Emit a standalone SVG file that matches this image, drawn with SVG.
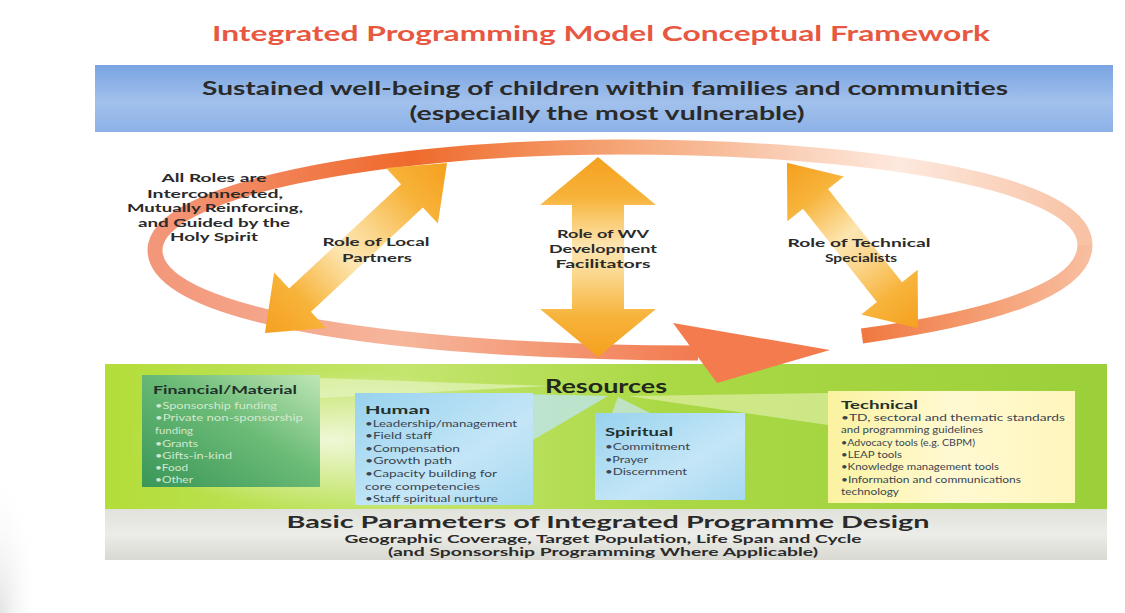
<svg xmlns="http://www.w3.org/2000/svg" width="1125" height="613" viewBox="0 0 1125 613">
<style>
text{font-family:Lato,"Open Sans","DejaVu Sans",sans-serif;}
.title{font-size:21px;font-weight:bold;fill:#e8573f;}
.h1{font-size:19px;font-weight:bold;fill:#2a2a2a;}
.role{font-size:11.5px;font-weight:bold;fill:#2a2a2a;}
.bt{font-size:11.5px;font-weight:bold;fill:#22302a;}
.it{font-size:9.5px;fill:#3a4450;}
.fit{font-size:9.5px;fill:#d2e8cf;}
.sub{font-size:11px;font-weight:bold;fill:#2a2a2a;}
.arr{fill:url(#ag);}
.ring{fill:none;stroke-width:15;stroke-linecap:butt;}
</style>
<defs>
<linearGradient id="bg1" x1="0" y1="0" x2="0" y2="1">
<stop offset="0" stop-color="#79a4e2"/><stop offset="0.55" stop-color="#a2c1ec"/><stop offset="1" stop-color="#8cb2e7"/>
</linearGradient>
<linearGradient id="ag" x1="0" y1="0" x2="1" y2="0">
<stop offset="0" stop-color="#f5a01e"/><stop offset="0.2" stop-color="#f7b33a"/><stop offset="0.45" stop-color="#fde6b2"/><stop offset="0.58" stop-color="#fbd890"/><stop offset="0.8" stop-color="#f7b33a"/><stop offset="1" stop-color="#f5a01e"/>
</linearGradient>
<linearGradient id="rA" gradientUnits="userSpaceOnUse" x1="862" y1="0" x2="1085" y2="0">
<stop offset="0" stop-color="#f07840"/><stop offset="1" stop-color="#f8bd9e"/>
</linearGradient>
<linearGradient id="rB" gradientUnits="userSpaceOnUse" x1="1085" y1="0" x2="620" y2="0">
<stop offset="0" stop-color="#f8c2a4"/><stop offset="0.4" stop-color="#fde9de"/><stop offset="1" stop-color="#f5a576"/>
</linearGradient>
<linearGradient id="rC" gradientUnits="userSpaceOnUse" x1="620" y1="0" x2="155" y2="0">
<stop offset="0" stop-color="#f5a576"/><stop offset="0.45" stop-color="#ef6a2c"/><stop offset="1" stop-color="#f3977a"/>
</linearGradient>
<linearGradient id="rD" gradientUnits="userSpaceOnUse" x1="155" y1="0" x2="700" y2="0">
<stop offset="0" stop-color="#f3977a"/><stop offset="0.45" stop-color="#f6b69c"/><stop offset="1" stop-color="#f27a4e"/>
</linearGradient>
<linearGradient id="gp" x1="0" y1="0" x2="1" y2="0">
<stop offset="0" stop-color="#b3dd38"/><stop offset="0.3" stop-color="#c4e56e"/><stop offset="0.55" stop-color="#abd946"/><stop offset="1" stop-color="#9bd03a"/>
</linearGradient>
<radialGradient id="glow" cx="0.5" cy="0.5" r="0.5">
<stop offset="0" stop-color="#ffffff" stop-opacity="0.75"/><stop offset="1" stop-color="#ffffff" stop-opacity="0"/>
</radialGradient>
<linearGradient id="gray" x1="0" y1="0" x2="0" y2="1">
<stop offset="0" stop-color="#e2e2dc"/><stop offset="0.5" stop-color="#ecece8"/><stop offset="1" stop-color="#d9d9d2"/>
</linearGradient>
<linearGradient id="fin" x1="0" y1="1" x2="1" y2="0">
<stop offset="0" stop-color="#3a9658"/><stop offset="0.55" stop-color="#6bbb76"/><stop offset="1" stop-color="#bfe6b6"/>
</linearGradient>
<linearGradient id="blue" x1="0" y1="0" x2="1" y2="1">
<stop offset="0" stop-color="#98d2ee"/><stop offset="0.6" stop-color="#c4e6f7"/><stop offset="1" stop-color="#a6d8f0"/>
</linearGradient>
<linearGradient id="yel" x1="0" y1="0" x2="1" y2="0">
<stop offset="0" stop-color="#fbf2a0"/><stop offset="0.5" stop-color="#fff9d2"/><stop offset="1" stop-color="#fff6bc"/>
</linearGradient>
<radialGradient id="edge" cx="0" cy="1" r="1">
<stop offset="0" stop-color="#e4e4e4"/><stop offset="1" stop-color="#ffffff" stop-opacity="0"/>
</radialGradient>
</defs>

<rect width="1125" height="613" fill="#ffffff"/>
<rect x="0" y="470" width="40" height="143" fill="url(#edge)"/>

<g id="title">
<text class="title" x="601" y="41" text-anchor="middle" textLength="778" lengthAdjust="spacingAndGlyphs">Integrated Programming Model Conceptual Framework</text>
</g>

<g id="goal">
<rect x="95" y="65" width="1018" height="67" fill="url(#bg1)"/>
<text class="h1" x="605" y="95" text-anchor="middle" textLength="806" lengthAdjust="spacingAndGlyphs">Sustained well-being of children within families and communities</text>
<text class="h1" x="607" y="120" text-anchor="middle" textLength="395" lengthAdjust="spacingAndGlyphs">(especially the most vulnerable)</text>
</g>

<g id="connectors">
<path class="ring" stroke="url(#rA)" d="M862,336 C990,318 1085,290 1085,245"/>
<path class="ring" stroke="url(#rB)" d="M1085,245 C1085,180 860,147 620,147"/>
<path class="ring" stroke="url(#rC)" d="M620,147 C380,147 155,190 155,250"/>
<path class="ring" stroke="url(#rD)" d="M155,250 C155,320 420,353 698,353"/>
<path class="arr" transform="translate(356,248) rotate(-43)" d="M-124.5,0 L-76.5,-38 L-76.5,-16 L76.5,-16 L76.5,-38 L124.5,0 L76.5,38 L76.5,16 L-76.5,16 L-76.5,38 Z"/>
<path class="arr" transform="translate(598,257) rotate(90)" d="M-100,0 L-52,-58 L-52,-26 L52,-26 L52,-58 L100,0 L52,58 L52,26 L-52,26 L-52,58 Z"/>
<path class="arr" transform="translate(852.5,245.5) rotate(51.6)" d="M-105.5,0 L-59.5,-36 L-59.5,-16 L59.5,-16 L59.5,-36 L105.5,0 L59.5,36 L59.5,16 L-59.5,16 L-59.5,36 Z"/>
</g>

<g id="roles-note">
<text class="role" text-anchor="middle" x="214" y="182" textLength="105" lengthAdjust="spacingAndGlyphs">All Roles are</text>
<text class="role" text-anchor="middle" x="215" y="198" textLength="136" lengthAdjust="spacingAndGlyphs">Interconnected,</text>
<text class="role" text-anchor="middle" x="215" y="212" textLength="176" lengthAdjust="spacingAndGlyphs">Mutually Reinforcing,</text>
<text class="role" text-anchor="middle" x="214" y="227" textLength="152" lengthAdjust="spacingAndGlyphs">and Guided by the</text>
<text class="role" text-anchor="middle" x="214" y="241" textLength="88" lengthAdjust="spacingAndGlyphs">Holy Spirit</text>
</g>
<g id="role-local">
<text class="role" text-anchor="middle" x="376" y="246" textLength="107" lengthAdjust="spacingAndGlyphs">Role of Local</text>
<text class="role" text-anchor="middle" x="377" y="262" textLength="70" lengthAdjust="spacingAndGlyphs">Partners</text>
</g>
<g id="role-wv">
<text class="role" text-anchor="middle" x="603" y="238" textLength="92" lengthAdjust="spacingAndGlyphs">Role of WV</text>
<text class="role" text-anchor="middle" x="603" y="253" textLength="108" lengthAdjust="spacingAndGlyphs">Development</text>
<text class="role" text-anchor="middle" x="603" y="268" textLength="95" lengthAdjust="spacingAndGlyphs">Facilitators</text>
</g>
<g id="role-technical">
<text class="role" text-anchor="middle" x="859" y="247" textLength="143" lengthAdjust="spacingAndGlyphs">Role of Technical</text>
<text class="role" text-anchor="middle" x="861" y="262" textLength="72" lengthAdjust="spacingAndGlyphs">Specialists</text>
</g>

<g id="resources">
<rect x="105" y="364" width="1002" height="145" fill="url(#gp)"/>
<ellipse cx="330" cy="440" rx="200" ry="70" fill="url(#glow)"/>
<polygon points="320,378 320,398 548,386" fill="#eaf6cc" opacity="0.6"/>
<polygon points="480,393 533,393 533,440 608,396" fill="#bfe5f5" opacity="0.75"/>
<polygon points="612,413 650,413 618,397" fill="#c6e6f5" opacity="0.7"/>
<polygon points="828,393 828,425 628,396" fill="#eef6c0" opacity="0.55"/>
<text x="606" y="393" text-anchor="middle" textLength="122" lengthAdjust="spacingAndGlyphs" style="font-size:19px;font-weight:bold;fill:#22281e">Resources</text>
</g>

<g id="financial">
<rect x="142" y="375" width="178" height="112" fill="url(#fin)"/>
<text class="bt" x="153" y="394" textLength="144" lengthAdjust="spacingAndGlyphs">Financial/Material</text>
<text class="fit" x="155" y="408.5" textLength="122" lengthAdjust="spacingAndGlyphs">•Sponsorship funding</text>
<text class="fit" x="155" y="421" textLength="148" lengthAdjust="spacingAndGlyphs">•Private non-sponsorship</text>
<text class="fit" x="155" y="434" textLength="38" lengthAdjust="spacingAndGlyphs">funding</text>
<text class="fit" x="155" y="446.5" textLength="43" lengthAdjust="spacingAndGlyphs">•Grants</text>
<text class="fit" x="155" y="458.5" textLength="77" lengthAdjust="spacingAndGlyphs">•Gifts-in-kind</text>
<text class="fit" x="155" y="470.5" textLength="33" lengthAdjust="spacingAndGlyphs">•Food</text>
<text class="fit" x="155" y="483" textLength="38" lengthAdjust="spacingAndGlyphs">•Other</text>
</g>

<g id="human">
<rect x="355" y="393" width="178" height="112" fill="url(#blue)"/>
<text class="bt" x="365" y="413.5" textLength="65" lengthAdjust="spacingAndGlyphs">Human</text>
<text class="it" x="365" y="426.5" textLength="152" lengthAdjust="spacingAndGlyphs">•Leadership/management</text>
<text class="it" x="365" y="438.5" textLength="67" lengthAdjust="spacingAndGlyphs">•Field staff</text>
<text class="it" x="365" y="451.5" textLength="95" lengthAdjust="spacingAndGlyphs">•Compensation</text>
<text class="it" x="365" y="463.5" textLength="87" lengthAdjust="spacingAndGlyphs">•Growth path</text>
<text class="it" x="365" y="476.5" textLength="132" lengthAdjust="spacingAndGlyphs">•Capacity building for</text>
<text class="it" x="365" y="489.5" textLength="115" lengthAdjust="spacingAndGlyphs">core competencies</text>
<text class="it" x="365" y="501.5" textLength="133" lengthAdjust="spacingAndGlyphs">•Staff spiritual nurture</text>
</g>

<g id="spiritual">
<rect x="595" y="413" width="150" height="87" fill="url(#blue)"/>
<text class="bt" x="605" y="436" textLength="68" lengthAdjust="spacingAndGlyphs">Spiritual</text>
<text class="it" x="605" y="449.5" textLength="85" lengthAdjust="spacingAndGlyphs">•Commitment</text>
<text class="it" x="605" y="462.5" textLength="43" lengthAdjust="spacingAndGlyphs">•Prayer</text>
<text class="it" x="605" y="474.5" textLength="82" lengthAdjust="spacingAndGlyphs">•Discernment</text>
</g>

<g id="technical">
<rect x="828" y="391" width="247" height="112" fill="url(#yel)"/>
<text class="bt" x="841" y="409" textLength="77" lengthAdjust="spacingAndGlyphs">Technical</text>
<text class="it" x="841" y="420.5" textLength="224" lengthAdjust="spacingAndGlyphs">•TD, sectoral and thematic standards</text>
<text class="it" x="841" y="433" textLength="142" lengthAdjust="spacingAndGlyphs">and programming guidelines</text>
<text class="it" x="841" y="445.5" textLength="134" lengthAdjust="spacingAndGlyphs">•Advocacy tools (e.g. CBPM)</text>
<text class="it" x="841" y="457.5" textLength="61" lengthAdjust="spacingAndGlyphs">•LEAP tools</text>
<text class="it" x="841" y="470" textLength="158" lengthAdjust="spacingAndGlyphs">•Knowledge management tools</text>
<text class="it" x="841" y="482.5" textLength="180" lengthAdjust="spacingAndGlyphs">•Information and communications</text>
<text class="it" x="841" y="494.5" textLength="58" lengthAdjust="spacingAndGlyphs">technology</text>
</g>

<g id="ring-head">
<polygon points="673,323 830,350 717,383" fill="#f47b4e"/>
</g>

<g id="parameters">
<rect x="105" y="509" width="1002" height="51" fill="url(#gray)"/>
<text x="608" y="528" text-anchor="middle" textLength="643" lengthAdjust="spacingAndGlyphs" style="font-size:17px;font-weight:bold;fill:#2a2a2a">Basic Parameters of Integrated Programme Design</text>
<text class="sub" x="603" y="543" text-anchor="middle" textLength="517" lengthAdjust="spacingAndGlyphs">Geographic Coverage, Target Population, Life Span and Cycle</text>
<text class="sub" x="603" y="556" text-anchor="middle" textLength="430" lengthAdjust="spacingAndGlyphs">(and Sponsorship Programming Where Applicable)</text>
</g>
</svg>
